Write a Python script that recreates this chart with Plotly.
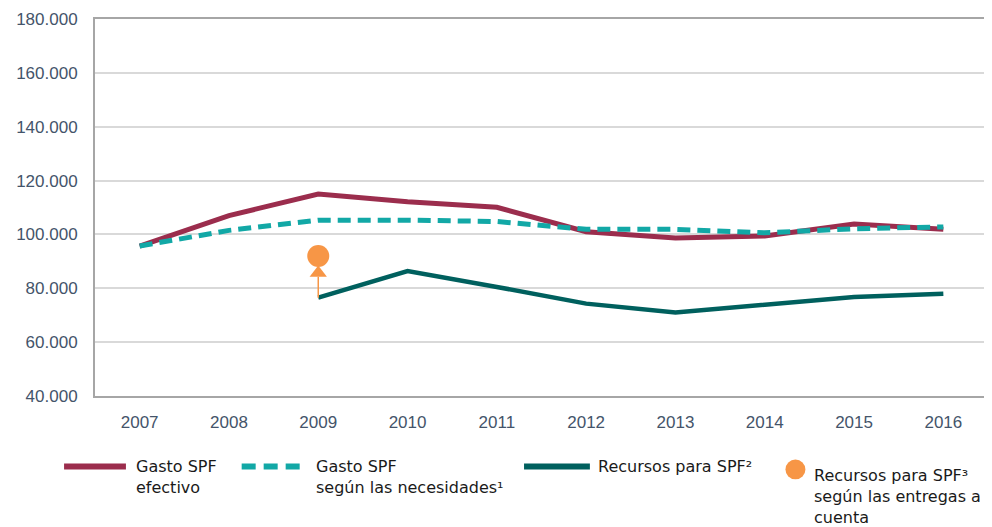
import plotly.graph_objects as go

years = ['2007', '2008', '2009', '2010', '2011', '2012', '2013', '2014', '2015', '2016']
gasto_efectivo = [95700, 107000, 115000, 112100, 110100, 101000, 98700, 99400, 103900, 101900]
gasto_necesidades = [95700, 101500, 105300, 105300, 104800, 101900, 101900, 100600, 102100, 102800]
recursos_years = ['2009', '2010', '2011', '2012', '2013', '2014', '2015', '2016']
recursos = [76500, 86400, 80500, 74300, 71000, 74100, 76800, 78000]
entregas_year = ['2009']
entregas = [92000]
arrow_from = [76500, 84300]
arrow_head = [85700]

tick_vals = [40000, 60000, 80000, 100000, 120000, 140000, 160000, 180000]

RED = '#9B2D4D'
TEAL = '#12A8A6'
DARK = '#00605E'
ORANGE = '#F79646'
TICK_COLOR = '#44546A'

# the page body has an 8px margin, so figure pixels = window pixels - 8
OFF = 8
W, H = 992 - OFF, 527 - OFF
L, R, T, B = 95 - OFF, 990 - OFF, 16 - OFF, 396 - OFF


def px(x):
    return (x - OFF - L) / (R - L)


def py(y):
    return (B - (y - OFF)) / (B - T)


fig = go.Figure()
fig.add_trace(go.Scatter(x=years, y=gasto_efectivo, mode='lines',
                         line=dict(color=RED, width=5), name='Gasto SPF efectivo'))
fig.add_trace(go.Scatter(x=years, y=gasto_necesidades, mode='lines',
                         line=dict(color=TEAL, width=5, dash='13px,7px'),
                         name='Gasto SPF según las necesidades'))
fig.add_trace(go.Scatter(x=recursos_years, y=recursos, mode='lines',
                         line=dict(color=DARK, width=4.5), name='Recursos para SPF'))
fig.add_trace(go.Scatter(x=entregas_year * 2, y=arrow_from, mode='lines',
                         line=dict(color=ORANGE, width=1.5), hoverinfo='skip'))
fig.add_trace(go.Scatter(x=entregas_year, y=arrow_head, mode='markers',
                         marker=dict(symbol='triangle-up', size=15, color=ORANGE),
                         hoverinfo='skip'))
fig.add_trace(go.Scatter(x=entregas_year, y=entregas, mode='markers',
                         marker=dict(size=22, color=ORANGE),
                         name='Recursos para SPF según las entregas a cuenta'))

# legend drawn by hand so the long symbols and spacing match (window pixels)
legend_font = dict(family='DejaVu Sans', size=16, color='#1a1a1a')
shapes = [
    dict(type='line', xref='paper', yref='paper', x0=px(64), x1=px(126), y0=py(467), y1=py(467),
         line=dict(color=RED, width=6)),
    dict(type='line', xref='paper', yref='paper', x0=px(242), x1=px(302), y0=py(467), y1=py(467),
         line=dict(color=TEAL, width=6, dash='14px,8px')),
    dict(type='line', xref='paper', yref='paper', x0=px(525), x1=px(591), y0=py(467), y1=py(467),
         line=dict(color=DARK, width=6)),
    dict(type='circle', xref='paper', yref='paper', x0=px(787), x1=px(807), y0=py(460), y1=py(480),
         fillcolor=ORANGE, line=dict(width=0)),
]
labels = [
    (134, 455, 'Gasto SPF<br>efectivo'),
    (314, 455, 'Gasto SPF<br>según las necesidades¹'),
    (597, 455, 'Recursos para SPF²'),
    (814, 465, 'Recursos para SPF³<br>según las entregas a<br>cuenta'),
]
annotations = [dict(x=px(x), y=py(y), xref='paper', yref='paper', text=t, showarrow=False,
                    xanchor='left', yanchor='top', align='left', font=legend_font)
               for x, y, t in labels]

fig.update_layout(
    width=W, height=H,
    margin=dict(l=L, r=W - R, t=T, b=H - B),
    paper_bgcolor='white', plot_bgcolor='white',
    showlegend=False,
    separators=',.',
    shapes=shapes,
    annotations=annotations,
    font=dict(family='Liberation Sans, Arial', size=17, color=TICK_COLOR),
    xaxis=dict(type='category', range=[-0.5, 9.5], showgrid=False,
               showline=True, linecolor='#A6A6A6', linewidth=2, mirror=True,
               ticks='', ticklabelstandoff=10, fixedrange=True),
    yaxis=dict(range=[40000, 180000], tickvals=tick_vals, tickformat=',.0f',
               ticklabeloverflow='allow',
               showgrid=True, gridcolor='#D9D9D9', gridwidth=2, zeroline=False,
               showline=True, linecolor='#A6A6A6', linewidth=2, mirror=True,
               ticks='', ticklabelstandoff=12, fixedrange=True),
)

fig.write_html('out.html')
